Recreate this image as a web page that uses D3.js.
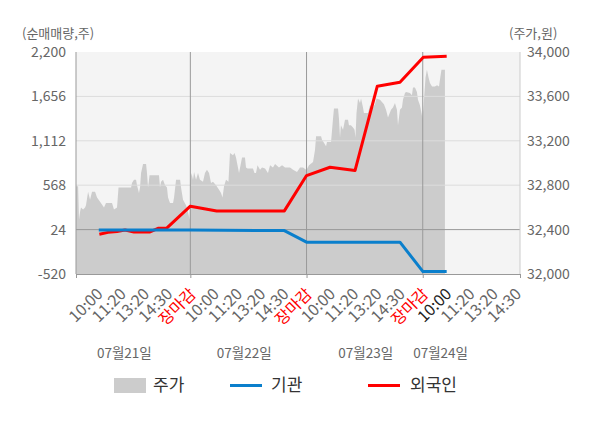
<!DOCTYPE html>
<html><head><meta charset="utf-8">
<script src="https://cdn.jsdelivr.net/npm/d3@7"></script>
<style>
body{margin:0;background:#fff}
svg{display:block}
text{font-family:"Noto Sans CJK KR","Noto Sans",sans-serif}
</style>
</head><body>
<svg id="c" width="600" height="428"></svg>
<script>
// ---- data ----
const dayLabels = ["07월21일", "07월22일", "07월23일", "07월24일"];
const dayLabelPos = [43.2, 146.4, 250.9, 315.4];      // time index
const dayBounds = [100, 200, 300];                     // time index of day breaks
const axisEnds = [1.6, 383.7];
const tickPos = [20, 40, 60, 80, 100, 120, 140, 160, 180, 200, 220, 240, 260, 280, 300, 320, 340, 360, 380];
const tickText = ["10:00","11:20","13:20","14:30","장마감","10:00","11:20","13:20","14:30","장마감",
                  "10:00","11:20","13:20","14:30","장마감","10:00","11:20","13:20","14:30"];
const leftTicks = [-520, 24, 568, 1112, 1656, 2200];
const rightTicks = [32000, 32400, 32800, 33200, 33600, 34000];

const priceT = [1.6,3.4,4.2,5.1,5.9,7.7,9.4,10.2,12.0,13.7,15.4,18.0,19.7,22.3,25.7,27.4,32.6,34.3,36.9,38.2,49.0,49.8,51.5,53.3,54.1,55.8,56.7,57.6,59.3,61.9,62.7,63.6,64.9,73.0,73.9,74.8,76.5,78.2,79.9,80.8,82.5,85.1,86.0,87.7,91.2,92.0,93.7,96.3,98.0,99.3,
 100.2,101.0,102.3,103.2,104.9,106.6,108.3,110.9,112.6,114.3,116.1,117.8,119.5,122.1,124.7,126.4,127.7,129.0,130.7,132.8,134.1,136.7,138.0,139.3,140.6,141.9,143.2,144.5,147.0,147.9,149.2,153.9,155.2,156.5,157.8,160.0,161.7,164.3,166.8,168.6,171.1,172.9,176.3,178.9,181.5,185.8,188.4,191.8,194.4,197.0,199.6,
 200.0,202.1,205.6,207.3,208.2,212.5,213.3,215.1,216.8,217.6,221.1,222.8,223.6,227.1,227.9,228.8,229.6,231.4,233.1,235.7,236.5,238.2,240.0,241.3,242.1,243.0,244.3,246.0,246.9,248.6,249.4,252.9,254.6,257.2,258.9,260.2,263.2,266.6,268.4,270.1,272.7,274.4,276.1,277.8,278.7,280.4,282.1,283.0,284.7,285.6,289.0,290.7,291.6,293.3,295.0,295.9,297.6,298.9,299.8,
 300.6,302.4,303.6,305.0,306.2,308.0,310.5,312.3,314.0,314.8,316.1,319.1];
const priceV = [32790,32790,32490,32560,32600,32580,32600,32620,32740,32670,32740,32740,32690,32650,32600,32640,32640,32580,32600,32780,32780,32820,32850,32850,32800,32730,32780,32910,32990,32990,32910,32780,32890,32890,32780,32830,32850,32800,32780,32690,32640,32640,32690,32850,32850,32780,32670,32620,32560,32490,
 32850,32910,32850,32920,32850,32910,32850,32830,32910,32940,32910,32820,32830,32800,32760,32730,32690,32790,32850,32830,33090,33070,33090,33050,32980,32910,32980,33050,33050,32960,32950,32950,32910,32910,32980,32940,32960,32950,32910,32980,32960,32990,32960,32980,32960,32960,32940,32920,32960,32960,32940,
 32940,32980,33010,33120,33240,33240,33210,33180,33150,33190,33190,33400,33490,33490,33400,33230,33340,33300,33390,33390,33340,33340,33320,33300,33230,33450,33580,33540,33580,33500,33450,33450,33520,33500,33530,33580,33570,33530,33480,33410,33480,33500,33540,33480,33340,33480,33500,33570,33630,33640,33630,33610,33680,33680,33640,33570,33520,33450,33400,
 33500,33770,33840,33770,33720,33690,33690,33700,33690,33750,33840,33840];

const foreignT = [21.7, 29.2, 36.9, 43.8, 51.5, 65.3, 72.2, 79.9, 100, 122.7, 180.9, 200, 220.2, 241.7, 260.9, 280.4, 300.5, 320.6];
const foreignV = [-32, -10, 0, 18, -5, -5, 40, 45, 311, 253, 253, 686, 788, 747, 1781, 1830, 2136, 2148];
const instT = [21.2, 100, 180.9, 200, 280.4, 300.2, 320.6];
const instV = [20, 18, 12, -130, -130, -490, -490];

// ---- chart ----
const svg = d3.select("#c");
const L = 76, R = 520, T = 52, B = 274;
const x = d3.scaleLinear().domain(axisEnds).range([L, R]);
const yL = d3.scaleLinear().domain([-520, 2200]).range([B, T]);
const yR = d3.scaleLinear().domain([32000, 34000]).range([B, T]);
const fmt = d => d3.format(",")(d).replace("\u2212", "-");

svg.append("rect").attr("x", L).attr("y", T).attr("width", R - L).attr("height", B - T).attr("fill", "#f4f4f4");

const price = priceT.map((t, i) => ({t, v: priceV[i]}));
svg.append("path").datum(price)
  .attr("fill", "#cccccc")
  .attr("d", d3.area().x(d => x(d.t)).y0(yR(32000)).y1(d => yR(d.v)));

// gridlines
svg.append("g").selectAll("line").data(leftTicks.filter(d => d !== -520 && d !== 2200 && d !== 24))
  .join("line").attr("x1", L).attr("x2", R).attr("y1", d => yL(d)).attr("y2", d => yL(d))
  .attr("stroke", "#dcdcdc").attr("stroke-width", 1);
svg.append("line").attr("x1", L).attr("x2", R).attr("y1", yL(24)).attr("y2", yL(24))
  .attr("stroke", "#999").attr("stroke-width", 1);
svg.append("g").selectAll("line").data(dayBounds).join("line")
  .attr("x1", d => x(d)).attr("x2", d => x(d)).attr("y1", T).attr("y2", B)
  .attr("stroke", "#999").attr("stroke-width", 1);

// axes lines
svg.append("line").attr("x1", L).attr("x2", L).attr("y1", T).attr("y2", B).attr("stroke", "#999");
svg.append("line").attr("x1", R).attr("x2", R).attr("y1", T).attr("y2", B).attr("stroke", "#ccc");

// lines
const line = d3.line().x(d => x(d.t)).y(d => yL(d.v));
svg.append("path").datum(foreignT.map((t, i) => ({t, v: foreignV[i]})))
  .attr("fill", "none").attr("stroke", "#ff0000").attr("stroke-width", 3).attr("stroke-linejoin", "round")
  .attr("d", line);
svg.append("path").datum(instT.map((t, i) => ({t, v: instV[i]})))
  .attr("fill", "none").attr("stroke", "#0a7fcc").attr("stroke-width", 3).attr("stroke-linejoin", "round")
  .attr("d", line);

// bottom axis (tick marks at day breaks)
const bAx = svg.append("g").attr("transform", `translate(0,${B})`)
  .call(d3.axisBottom(x).tickValues([axisEnds[0], ...dayBounds, axisEnds[1]]).tickSize(4).tickFormat(""));
bAx.select(".domain").attr("stroke", "#999");
bAx.selectAll(".tick line").attr("stroke", "#999");

// time labels
const tAx = svg.append("g").attr("transform", `translate(0,${B})`)
  .call(d3.axisBottom(x).tickValues(tickPos).tickSize(0).tickFormat((d, i) => tickText[i]));
tAx.select(".domain").remove();
tAx.selectAll(".tick text")
  .attr("x", 0).attr("y", 0).attr("dy", 0)
  .attr("transform", "translate(6,21) rotate(-45)")
  .attr("text-anchor", "end")
  .attr("font-size", 16)
  .attr("font-family", '"Noto Sans CJK KR", sans-serif')
  .attr("fill", (d, i) => tickText[i] === "장마감" ? "#ff0000" : (i === 15 ? "#222" : "#666"));

// date labels
svg.append("g").selectAll("text").data(dayLabels).join("text")
  .attr("x", (d, i) => x(dayLabelPos[i])).attr("y", 358)
  .attr("text-anchor", "middle").attr("font-size", 13.5).attr("fill", "#666").text(d => d);

// left axis
const lAx = svg.append("g").attr("transform", `translate(${L},0)`)
  .call(d3.axisLeft(yL).tickValues(leftTicks).tickSize(0).tickPadding(10).tickFormat(fmt));
lAx.select(".domain").remove();
lAx.selectAll("text").attr("font-size", 14).attr("fill", "#666").attr("font-family", '"Noto Sans CJK KR", sans-serif');

// right axis
const rAx = svg.append("g").attr("transform", `translate(${R},0)`)
  .call(d3.axisRight(yR).tickValues(rightTicks).tickSize(0).tickPadding(7).tickFormat(fmt));
rAx.select(".domain").remove();
rAx.selectAll("text").attr("font-size", 14).attr("fill", "#666").attr("font-family", '"Noto Sans CJK KR", sans-serif');

// axis titles
svg.append("text").attr("x", 22).attr("y", 38).attr("font-size", 13).attr("fill", "#666").text("(순매매량,주)");
svg.append("text").attr("x", 509).attr("y", 38).attr("font-size", 13).attr("fill", "#666").text("(주가,원)");

// legend
const lg = svg.append("g");
lg.append("rect").attr("x", 114).attr("y", 378).attr("width", 32).attr("height", 15).attr("fill", "#cccccc");
lg.append("text").attr("x", 153).attr("y", 391).attr("font-size", 17).attr("fill", "#333").text("주가");
lg.append("line").attr("x1", 230).attr("x2", 262).attr("y1", 385.5).attr("y2", 385.5).attr("stroke", "#0a7fcc").attr("stroke-width", 3);
lg.append("text").attr("x", 271).attr("y", 391).attr("font-size", 17).attr("fill", "#333").text("기관");
lg.append("line").attr("x1", 368).attr("x2", 400).attr("y1", 385.5).attr("y2", 385.5).attr("stroke", "#ff0000").attr("stroke-width", 3);
lg.append("text").attr("x", 410).attr("y", 391).attr("font-size", 17).attr("fill", "#333").text("외국인");
</script>
</body></html>
